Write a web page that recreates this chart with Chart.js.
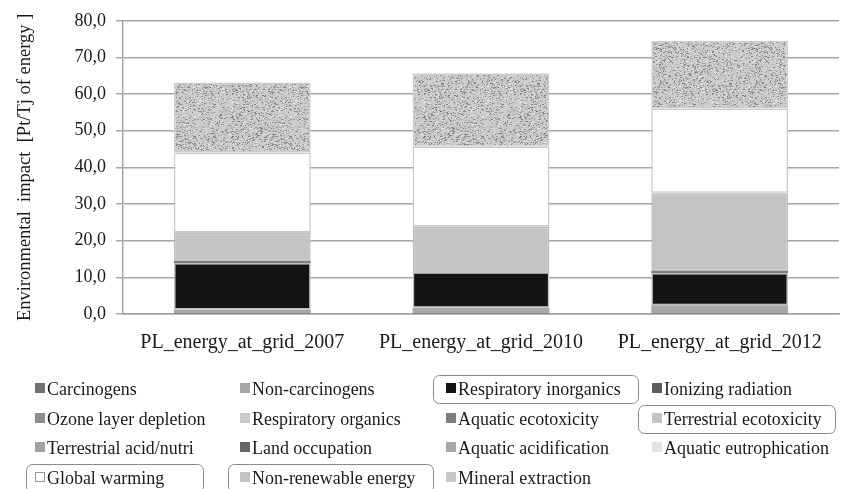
<!DOCTYPE html>
<html>
<head>
<meta charset="utf-8">
<script src="https://cdn.jsdelivr.net/npm/chart.js@4.4.1/dist/chart.umd.min.js"></script>
<style>
  html, body { margin: 0; padding: 0; background: #ffffff; }
  #wrap { width: 846px; height: 489px; position: relative; }
</style>
</head>
<body>
<div id="wrap"><canvas id="c" width="846" height="489"></canvas></div>
<script>
// ---- data ----
const categories = ['PL_energy_at_grid_2007', 'PL_energy_at_grid_2010', 'PL_energy_at_grid_2012'];
const seriesNames = ['Carcinogens', 'Non-carcinogens', 'Respiratory inorganics', 'Ionizing radiation',
  'Ozone layer depletion', 'Respiratory organics', 'Aquatic ecotoxicity', 'Terrestrial ecotoxicity',
  'Terrestrial acid/nutri', 'Land occupation', 'Aquatic acidification', 'Aquatic eutrophication',
  'Global warming', 'Non-renewable energy', 'Mineral extraction'];
const carcinogens = [0.05, 0.05, 0.05];
const nonCarcinogens = [1.15, 1.65, 2.35];
const respiratoryInorganics = [12.7, 9.7, 8.8];
const ionizingRadiation = [0.2, 0.05, 0.2];
const ozoneLayerDepletion = [0.01, 0.01, 0.01];
const respiratoryOrganics = [0.03, 0.03, 0.03];
const aquaticEcotoxicity = [0.4, 0.05, 0.3];
const terrestrialEcotoxicity = [7.6, 12.2, 21.2];
const terrestrialAcidNutri = [0.05, 0.05, 0.05];
const landOccupation = [0.02, 0.02, 0.02];
const aquaticAcidification = [0.03, 0.03, 0.03];
const aquaticEutrophication = [0.01, 0.01, 0.01];
const globalWarming = [21.8, 21.8, 23.0];
const nonRenewableEnergy = [19.1, 20.0, 18.5];
const mineralExtraction = [0.02, 0.02, 0.02];
const yTicks = [0, 10, 20, 30, 40, 50, 60, 70, 80];
const yTitle = 'Environmental  impact  [Pt/Tj of energy ]';
const highlighted = ['Respiratory inorganics', 'Terrestrial ecotoxicity', 'Global warming', 'Non-renewable energy'];

const seriesValues = [carcinogens, nonCarcinogens, respiratoryInorganics, ionizingRadiation,
  ozoneLayerDepletion, respiratoryOrganics, aquaticEcotoxicity, terrestrialEcotoxicity,
  terrestrialAcidNutri, landOccupation, aquaticAcidification, aquaticEutrophication,
  globalWarming, nonRenewableEnergy, mineralExtraction];

// ---- styles ----
function speckle() {
  const c = document.createElement('canvas');
  c.width = 96; c.height = 96;
  const g = c.getContext('2d');
  g.fillStyle = '#cccccc';
  g.fillRect(0, 0, 96, 96);
  let s = 12345;
  const rnd = () => { s = (s * 1103515245 + 12345) & 0x7fffffff; return s / 0x7fffffff; };
  for (let i = 0; i < 3400; i++) {
    const x = Math.floor(rnd() * 96), y = Math.floor(rnd() * 96);
    const v = Math.floor(125 + rnd() * 105);
    g.fillStyle = 'rgb(' + v + ',' + v + ',' + v + ')';
    g.fillRect(x, y, 1 + (rnd() < 0.4 ? 1 : 0), 1);
  }
  return document.getElementById('c').getContext('2d').createPattern(c, 'repeat');
}
const fills = ['#6f6f6f', '#a8a8a8', '#141414', '#5c5c5c', '#8e8e8e', '#c9c9c9', '#7e7e7e', '#c4c4c4',
  '#a2a2a2', '#676767', '#a9a9a9', '#e3e3e3', '#ffffff', speckle(), '#c8c8c8'];
const legendFills = fills.slice(); legendFills[13] = '#c2c2c2';
const borders = [null, null, '#bdbdbd', null, null, null, null, '#bdbdbd', null, null, null, null, '#c8c8c8', '#cdcdcd', null];

const datasets = seriesNames.map((n, i) => ({
  label: n,
  data: seriesValues[i],
  backgroundColor: fills[i],
  borderColor: borders[i] || fills[i],
  borderWidth: borders[i] ? 1.5 : 0,
  borderSkipped: false,
  barPercentage: 0.573,
  categoryPercentage: 1.0
}));

const serif = "'Liberation Serif', 'DejaVu Serif', serif";

const legendPlugin = {
  id: 'gridLegend',
  afterDraw(chart) {
    const ctx = chart.ctx;
    const colX = [35, 240, 446, 652];
    const rowY = [389, 419, 448, 478];
    const boxPad = { 'Respiratory inorganics': [-13, 192], 'Terrestrial ecotoxicity': [-14, 183],
      'Global warming': [-9, 168], 'Non-renewable energy': [-12, 193] };
    ctx.save();
    ctx.font = '18.5px ' + serif;
    ctx.textBaseline = 'middle';
    chart.data.datasets.forEach((ds, i) => {
      const x = colX[i % 4], y = rowY[Math.floor(i / 4)];
      if (highlighted.includes(ds.label)) {
        const [l, r] = boxPad[ds.label];
        ctx.beginPath();
        ctx.strokeStyle = '#8a8a8a';
        ctx.lineWidth = 1;
        if (ctx.roundRect) ctx.roundRect(x + l + 0.5, y - 14 + 0.5, r - l, 28, 6);
        else ctx.rect(x + l + 0.5, y - 14 + 0.5, r - l, 28);
        ctx.stroke();
      }
      ctx.fillStyle = legendFills[i];
      ctx.fillRect(x, y - 6, 10, 10);
      if (ds.label === 'Global warming') {
        ctx.strokeStyle = '#999';
        ctx.lineWidth = 1;
        ctx.strokeRect(x + 0.5, y - 5.5, 9, 9);
      }
      ctx.fillStyle = '#1a1a1a';
      ctx.save();
      ctx.translate(x + 12, y + 1);
      ctx.scale(0.97, 1);
      ctx.fillText(ds.label, 0, 0);
      ctx.restore();
    });
    ctx.restore();
  }
};

new Chart(document.getElementById('c'), {
  type: 'bar',
  data: { labels: categories, datasets },
  plugins: [legendPlugin],
  options: {
    responsive: false,
    animation: false,
    layout: { padding: { left: 0, right: 7, top: 20, bottom: 0 } },
    plugins: { legend: { display: false }, tooltip: { enabled: false } },
    scales: {
      x: {
        stacked: true,
        grid: { display: false },
        border: { display: true, color: '#a0a0a0', width: 1.5 },
        ticks: { color: '#1a1a1a', font: { family: serif, size: 20 }, padding: 9, maxRotation: 0 },
        afterFit(s) { s.height = 489 - 314 - 0; }
      },
      y: {
        stacked: true,
        min: 0, max: 80,
        afterBuildTicks(s) { s.ticks = yTicks.map(v => ({ value: v })); },
        grid: { color: '#a6a6a6', lineWidth: 1.5, tickLength: 7, drawTicks: true },
        border: { display: true, color: '#a6a6a6', width: 1.5 },
        ticks: {
          color: '#1a1a1a', font: { family: serif, size: 18 }, padding: 10,
          callback: v => v.toFixed(1).replace('.', ',')
        },
        title: { display: true, text: yTitle, color: '#1a1a1a', font: { family: serif, size: 18.5 }, padding: { top: 14, bottom: 0 } },
        afterFit(s) { s.width = 123; }
      }
    }
  }
});
</script>
</body>
</html>
